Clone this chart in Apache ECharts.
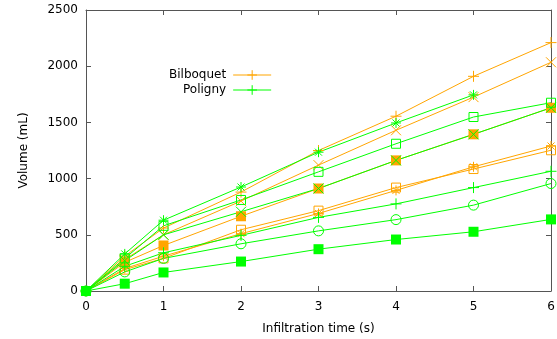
<!DOCTYPE html>
<html>
<head>
<meta charset="utf-8">
<script src="https://cdn.jsdelivr.net/npm/echarts@6/dist/echarts.min.js"></script>
<style>
  html, body { margin: 0; background: #fff; }
  #chart { width: 557px; height: 339px; }
</style>
</head>
<body>
<div id="chart"></div>
<script>
// infiltration times (s)
const times = [0, 0.5, 1, 2, 3, 4, 5, 6];
const yTicks = [0, 500, 1000, 1500, 2000, 2500];

// Bilboquet (orange)
const bilPlus = [0, 310, 560, 880, 1250, 1555, 1910, 2210];
const bilCross = [0, 280, 500, 800, 1120, 1430, 1725, 2035];
const bilStar = [0, 200, 310, 510, 690, 895, 1105, 1290];
const bilOpenSq = [0, 190, 290, 545, 715, 920, 1085, 1252];
const bilFilledSq = [0, 255, 405, 665, 912, 1162, 1394, 1630];

// Poligny (green)
const polPlus = [0, 220, 340, 495, 655, 775, 920, 1065];
const polCross = [0, 270, 500, 705, 912, 1162, 1394, 1630];
const polStar = [0, 330, 630, 925, 1235, 1495, 1745];
const polOpenSq = [0, 290, 580, 810, 1060, 1310, 1548, 1675];
const polCircle = [0, 170, 290, 420, 535, 635, 764, 956];
const polFilledSq = [0, 65, 165, 262, 372, 458, 527, 637];

const ORANGE = '#ffa500';
const GREEN = '#00ff00';
const FONT = 'DejaVu Sans';

const PLUS = 'path://M5,0L5,10M0,5L10,5';
const CROSS = 'path://M0,0L10,10M10,0L0,10';
const STAR = 'path://M5,0L5,10M0,5L10,5M1.5,1.5L8.5,8.5M8.5,1.5L1.5,8.5';
const SQUARE = 'path://M0,0L10,0L10,10L0,10Z';

function line(name, values, symbol, color, filled, size) {
  return {
    name: name,
    type: 'line',
    data: values.map(function (v, i) { return [times[i], v]; }),
    symbol: symbol,
    symbolSize: size,
    showSymbol: true,
    lineStyle: { color: color, width: 1 },
    itemStyle: filled
      ? { color: color, borderColor: color, borderWidth: 0 }
      : { color: 'rgba(0,0,0,0)', borderColor: color, borderWidth: 1 },
    emphasis: { disabled: true },
    animation: false
  };
}

const chart = echarts.init(document.getElementById('chart'));

const tickLabel = { color: '#000', fontSize: 12, fontFamily: FONT };
const axisLine = { show: true, onZero: false, lineStyle: { color: '#555', width: 1 } };
const axisTick = { show: true, inside: true, length: 5, lineStyle: { color: '#555' } };

chart.setOption({
  backgroundColor: '#fff',
  animation: false,
  grid: { left: 86, right: 6, top: 10, bottom: 48, containLabel: false, outerBoundsMode: 'none' },
  legend: {
    data: ['Bilboquet', 'Poligny'],
    orient: 'vertical',
    align: 'right',
    left: 164,
    top: 64,
    itemWidth: 38,
    itemHeight: 12,
    itemGap: 3,
    lineStyle: { width: 1 },
    itemStyle: { borderWidth: 1 },
    textStyle: { color: '#000', fontSize: 12, fontFamily: FONT, padding: [0, 2, 0, 0] },
    selectedMode: false
  },
  xAxis: [{
    type: 'value',
    min: 0,
    max: 6,
    interval: 1,
    name: 'Infiltration time (s)',
    nameLocation: 'middle',
    nameGap: 32,
    nameTextStyle: tickLabel,
    axisLine: axisLine,
    axisTick: axisTick,
    axisLabel: Object.assign({ margin: 10 }, tickLabel),
    splitLine: { show: false }
  }, {
    type: 'value',
    position: 'top',
    min: 0,
    max: 6,
    interval: 1,
    axisLine: axisLine,
    axisTick: axisTick,
    axisLabel: { show: false },
    splitLine: { show: false }
  }],
  yAxis: [{
    type: 'value',
    min: yTicks[0],
    max: yTicks[yTicks.length - 1],
    interval: 500,
    name: 'Volume (mL)',
    nameLocation: 'middle',
    nameRotate: 90,
    nameGap: 56,
    nameTextStyle: tickLabel,
    axisLine: axisLine,
    axisTick: axisTick,
    axisLabel: Object.assign({ margin: 8, formatter: function (v) { return String(v); } }, tickLabel),
    splitLine: { show: false }
  }, {
    type: 'value',
    position: 'right',
    min: yTicks[0],
    max: yTicks[yTicks.length - 1],
    interval: 500,
    axisLine: axisLine,
    axisTick: axisTick,
    axisLabel: { show: false },
    splitLine: { show: false }
  }],
  series: [
    line('Bilboquet', bilPlus, PLUS, ORANGE, false, 11),
    line('bil-x', bilCross, CROSS, ORANGE, false, 10),
    line('bil-star', bilStar, STAR, ORANGE, false, 10),
    line('bil-sq', bilOpenSq, SQUARE, ORANGE, false, 9),
    line('bil-fsq', bilFilledSq, 'rect', ORANGE, true, 10),
    line('Poligny', polPlus, PLUS, GREEN, false, 11),
    line('pol-x', polCross, CROSS, GREEN, false, 10),
    line('pol-star', polStar, STAR, GREEN, false, 10),
    line('pol-sq', polOpenSq, SQUARE, GREEN, false, 9),
    line('pol-circle', polCircle, 'circle', GREEN, false, 10),
    line('pol-fsq', polFilledSq, 'rect', GREEN, true, 10)
  ]
});
</script>
</body>
</html>
